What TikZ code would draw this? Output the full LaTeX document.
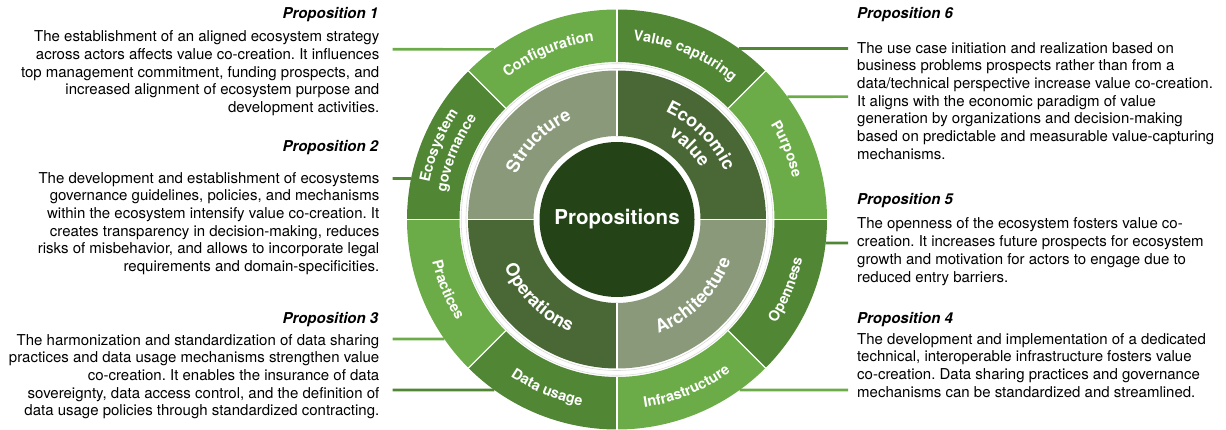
\documentclass[tikz,border=0pt]{standalone}
\usepackage{fontspec}
\setmainfont{TeX Gyre Heros}
\usetikzlibrary{calc,decorations.text}
\frenchspacing

\definecolor{segLight}{HTML}{6CAC48}
\definecolor{segDark}{HTML}{508634}
\definecolor{midLight}{HTML}{89997A}
\definecolor{midDark}{HTML}{4A6836}
\definecolor{coreGreen}{HTML}{244418}

% filled annular sector: colour, start angle, end angle, inner radius, outer radius
\newcommand\wheelsector[5]{%
  \fill[#1] ($(O)+(#2:#4)$) arc[start angle=#2,end angle=#3,radius=#4]
    -- ($(O)+(#3:#5)$) arc[start angle=#3,end angle=#2,radius=#5] -- cycle;}
% curved label, letters pointing outwards: mid angle, baseline radius, size, text
\newcommand\cwlabel[4]{%
  \path[decorate,decoration={text along path,text align=center,
    text={|\color{white}\bfseries\fontsize{#3}{#3}\selectfont|#4}}]
    ($(O)+({#1+45}:#2)$) arc[start angle=#1+45,end angle=#1-45,radius=#2];}
% curved label, letters pointing inwards
\newcommand\ccwlabel[4]{%
  \path[decorate,decoration={text along path,text align=center,
    text={|\color{white}\bfseries\fontsize{#3}{#3}\selectfont|#4}}]
    ($(O)+({#1-45}:#2)$) arc[start angle=#1-45,end angle=#1+45,radius=#2];}

\begin{document}
\begin{tikzpicture}[x=1pt,y=1pt,
  title/.style={font=\bfseries\itshape\fontsize{15}{18}\selectfont,inner sep=0pt},
  body/.style={font=\fontsize{15}{17.67}\selectfont,inner sep=0pt},
  connlight/.style={draw=segLight,line width=2.6pt},
  conndark/.style={draw=segDark,line width=2.6pt}]
\useasboundingbox (0,0) rectangle (1226,429);
\coordinate (O) at (617,209.5);

% ---------- proposition texts, left column (base = last line) ----------
\node[title,anchor=base east] (t1) at (378.5,410.5) {Proposition 1};
\node[body,align=right,anchor=base east] (b1) at (379.5,316.6)
  {The establishment of an aligned ecosystem strategy\\
   across actors affects value co-creation. It influences\\
   top management commitment, funding prospects, and\\
   increased alignment of ecosystem purpose and\\
   development activities.};
\node[title,anchor=base east] (t2) at (378.5,277.3) {Proposition 2};
\node[body,align=right,anchor=base east] (b2) at (379.5,157.35)
  {The development and establishment of ecosystems\\
   governance guidelines, policies, and mechanisms\\
   within the ecosystem intensify value co-creation. It\\
   creates transparency in decision-making, reduces\\
   risks of misbehavior, and allows to incorporate legal\\
   requirements and domain-specificities.};
\node[title,anchor=base east] (t3) at (378.5,105.7) {Proposition 3};
\node[body,align=right,anchor=base east] (b3) at (379.5,13.3)
  {The harmonization and standardization of data sharing\\
   practices and data usage mechanisms strengthen value\\
   co-creation. It enables the insurance of data\\
   sovereignty, data access control, and the definition of\\
   data usage policies through standardized contracting.};

% ---------- proposition texts, right column ----------
\node[title,anchor=base west] (t6) at (857,410.7) {Proposition 6};
\node[body,align=left,anchor=base west] (b6) at (857,269.7)
  {The use case initiation and realization based on\\
   business problems prospects rather than from a\\
   data/technical perspective increase value co-creation.\\
   It aligns with the economic paradigm of value\\
   generation by organizations and decision-making\\
   based on predictable and measurable value-capturing\\
   mechanisms.};
\node[title,anchor=base west] (t5) at (857,225) {Proposition 5};
\node[body,align=left,anchor=base west] (b5) at (857,147)
  {The openness of the ecosystem fosters value co-\\
   creation. It increases future prospects for ecosystem\\
   growth and motivation for actors to engage due to\\
   reduced entry barriers.};
\node[title,anchor=base west] (t4) at (857,105.7) {Proposition 4};
\node[body,align=left,anchor=base west] (b4) at (857,31.7)
  {The development and implementation of a dedicated\\
   technical, interoperable infrastructure fosters value\\
   co-creation. Data sharing practices and governance\\
   mechanisms can be standardized and streamlined.};

% ---------- connectors (drawn first, the wheel covers their ends) ----------
\coordinate (L1) at (392.5,379.7);
\coordinate (L2) at (392.5,250.5);
\coordinate (L3) at (392.5,90);
\coordinate (L4) at (392.5,39);
\coordinate (R1) at (848,380.5);
\coordinate (R2) at (848,332.3);
\coordinate (R3) at (848,186);
\coordinate (R4) at (848,39);
\coordinate (WL1) at ($(O)+({180-asin(170.2/210)}:210)$);
\coordinate (WL2) at ($(O)+({180-asin(41/210)}:210)$);
\coordinate (WL3) at ($(O)+({180+asin(119.5/210)}:210)$);
\coordinate (WL4) at ($(O)+({180+asin(170.5/210)}:210)$);
\coordinate (WR1) at ($(O)+({asin(171/210)}:210)$);
\coordinate (WR2) at ($(O)+({asin(122.8/210)}:210)$);
\coordinate (WR3) at ($(O)+({-asin(23.5/210)}:210)$);
\coordinate (WR4) at ($(O)+({-asin(170.5/210)}:210)$);
\draw[connlight] (L1) -- (WL1);
\draw[conndark]  (L2) -- (WL2);
\draw[connlight] (L3) -- (WL3);
\draw[conndark]  (L4) -- (WL4);
\draw[conndark]  (WR1) -- (R1);
\draw[connlight] (WR2) -- (R2);
\draw[conndark]  (WR3) -- (R3);
\draw[connlight] (WR4) -- (R4);

% ---------- outer ring ----------
\wheelsector{segLight}{90}{135}{157.5}{210}
\wheelsector{segDark}{45}{90}{157.5}{210}
\wheelsector{segLight}{0}{45}{157.5}{210}
\wheelsector{segDark}{-45}{0}{157.5}{210}
\wheelsector{segLight}{-90}{-45}{157.5}{210}
\wheelsector{segDark}{225}{270}{157.5}{210}
\wheelsector{segLight}{180}{225}{157.5}{210}
\wheelsector{segDark}{135}{180}{157.5}{210}
\foreach \a in {0,45,...,315}
  \draw[white,line width=1.3pt] ($(O)+(\a:157)$) -- ($(O)+(\a:210.5)$);
\draw[gray!28,line width=0.6pt] (O) circle[radius=151];
\draw[gray!28,line width=0.6pt] (O) circle[radius=155.8];

% ---------- middle ring ----------
\wheelsector{midLight}{90}{180}{83.5}{149}
\wheelsector{midDark}{0}{90}{83.5}{149}
\wheelsector{midLight}{270}{360}{83.5}{149}
\wheelsector{midDark}{180}{270}{83.5}{149}
\foreach \a in {0,90,180,270}
  \draw[white,line width=1.6pt] ($(O)+(\a:83)$) -- ($(O)+(\a:149.5)$);

% ---------- core ----------
\fill[coreGreen] (O) circle[radius=77.5];
\node[text=white,font=\bfseries\fontsize{20.5}{24}\selectfont] (core) at (O) {Propositions};

% ---------- ring labels ----------
\cwlabel{112.5}{179.5}{14.5}{Configuration}
\cwlabel{67.5}{179.5}{14.5}{Value capturing}
\cwlabel{22.5}{180.5}{14.5}{Purpose}
\ccwlabel{-22.5}{189.5}{14.5}{Openness}
\ccwlabel{-67.5}{190}{14.5}{Infrastructure}
\ccwlabel{247.5}{189.5}{14.5}{Data usage}
\ccwlabel{202.5}{189.5}{14.5}{Practices}
\cwlabel{157.5}{191}{14.5}{Ecosystem}
\cwlabel{157.5}{173}{14.5}{governance}

\cwlabel{135}{110}{18}{Structure}
\cwlabel{45}{118}{18}{Economic}
\cwlabel{45}{98.5}{18}{value}
\ccwlabel{225}{122}{18}{Operations}
\ccwlabel{315}{121}{18}{Architecture}
\end{tikzpicture}
\end{document}
